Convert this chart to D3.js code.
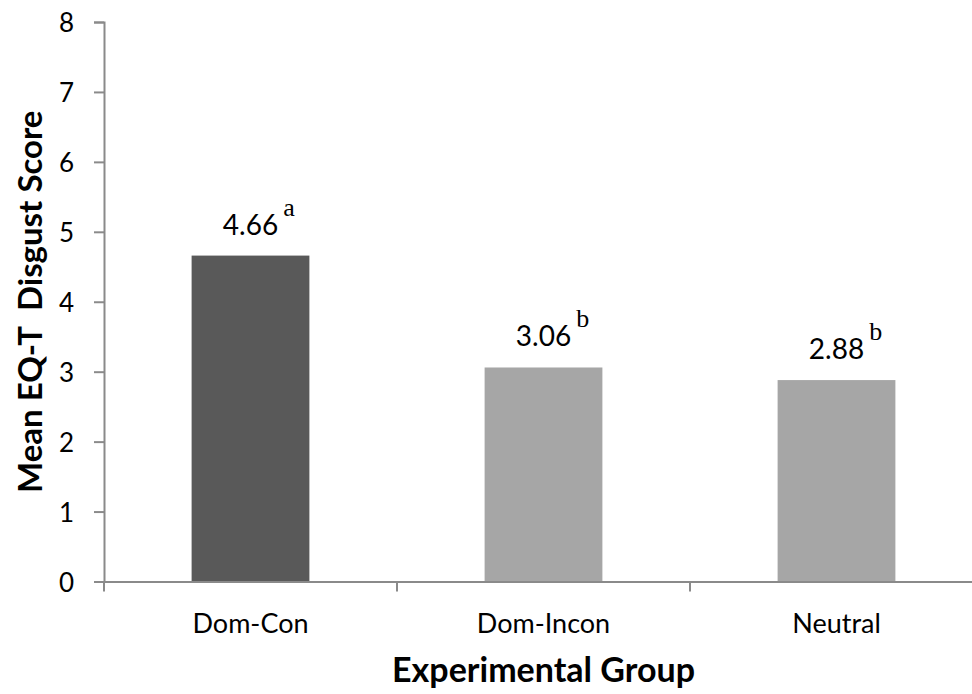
<!DOCTYPE html>
<html>
<head>
<meta charset="utf-8">
<script src="https://cdn.jsdelivr.net/npm/d3@7"></script>
<style>
  html, body { margin: 0; padding: 0; background: #fff; }
  svg { display: block; }
</style>
</head>
<body>
<svg id="chart" width="972" height="694"></svg>
<script>
const categories = ["Dom-Con", "Dom-Incon", "Neutral"];
const values = [4.66, 3.06, 2.88];
const valueLabels = ["4.66", "3.06", "2.88"];
const superscripts = ["a", "b", "b"];
const barColors = ["#595959", "#a6a6a6", "#a6a6a6"];
const yTicks = [0, 1, 2, 3, 4, 5, 6, 7, 8];
const yTitle = "Mean EQ-T\u00a0 Disgust Score";
const xTitle = "Experimental Group";

(function () {
const svg = d3.select("#chart");
const pLeft = 104, pRight = 983, pTop = 22, pBottom = 581.5;
const axisColor = "#8a8a8a";
const sans = "Lato, 'Open Sans', sans-serif";

const x = d3.scaleBand().domain(categories).range([pLeft, pRight]).padding(0);
const y = d3.scaleLinear().domain([0, 8]).range([pBottom, pTop]);
const barFrac = 0.402;

// bars
svg.append("g").selectAll("rect").data(categories).join("rect")
  .attr("x", (d) => x(d) + x.bandwidth() * (1 - barFrac) / 2)
  .attr("width", x.bandwidth() * barFrac)
  .attr("y", (d, i) => y(values[i]))
  .attr("height", (d, i) => y(0) - y(values[i]))
  .attr("fill", (d, i) => barColors[i]);

// y axis
const yAxis = svg.append("g").attr("transform", `translate(${pLeft},0)`)
  .call(d3.axisLeft(y).tickValues(yTicks).tickSize(10).tickPadding(20).tickFormat(d3.format("d")));
yAxis.select(".domain").attr("stroke", axisColor).attr("stroke-width", 2);
yAxis.selectAll(".tick line").attr("stroke", axisColor).attr("stroke-width", 2);
yAxis.selectAll(".tick text").attr("font-family", sans).attr("font-size", 26).attr("fill", "#000").attr("dy", "0.37em");

// x axis
const xAxis = svg.append("g").attr("transform", `translate(0,${pBottom})`)
  .call(d3.axisBottom(x).tickSize(0).tickPadding(51));
xAxis.select(".domain").attr("stroke", axisColor).attr("stroke-width", 2);
xAxis.selectAll(".tick text").attr("font-family", sans).attr("font-size", 27).attr("fill", "#000").attr("dy", "0");
// boundary ticks
const bounds = categories.map((c) => x(c)).concat([x.range()[1]]);
xAxis.selectAll(".bound").data(bounds).join("line")
  .attr("class", "bound")
  .attr("x1", (d) => d).attr("x2", (d) => d)
  .attr("y1", 0).attr("y2", 10)
  .attr("stroke", axisColor).attr("stroke-width", 2);

// data labels
const lab = svg.append("g").selectAll("text").data(categories).join("text")
  .attr("x", (d) => x(d) + x.bandwidth() / 2)
  .attr("y", (d, i) => y(values[i]) - 21)
  .attr("text-anchor", "middle")
  .attr("font-family", sans).attr("font-size", 28).attr("fill", "#000")
  .text((d, i) => valueLabels[i]);

lab.each(function (d, i) {
  const bb = this.getBBox();
  svg.append("text")
    .attr("x", bb.x + bb.width + 5)
    .attr("y", y(values[i]) - 40)
    .attr("font-family", "'Liberation Serif', 'Times New Roman', serif")
    .attr("font-size", 26).attr("fill", "#000")
    .text(superscripts[i]);
});

// axis titles
svg.append("text")
  .attr("x", (pLeft + pRight) / 2).attr("y", 682)
  .attr("text-anchor", "middle")
  .attr("font-family", sans).attr("font-weight", "bold").attr("font-size", 34).attr("fill", "#000")
  .text(xTitle);

svg.append("text")
  .attr("transform", `translate(42,${(pTop + pBottom) / 2}) rotate(-90)`)
  .attr("text-anchor", "middle")
  .attr("font-family", sans).attr("font-weight", "bold").attr("font-size", 33).attr("fill", "#000")
  .text(yTitle);
})();
</script>
</body>
</html>
